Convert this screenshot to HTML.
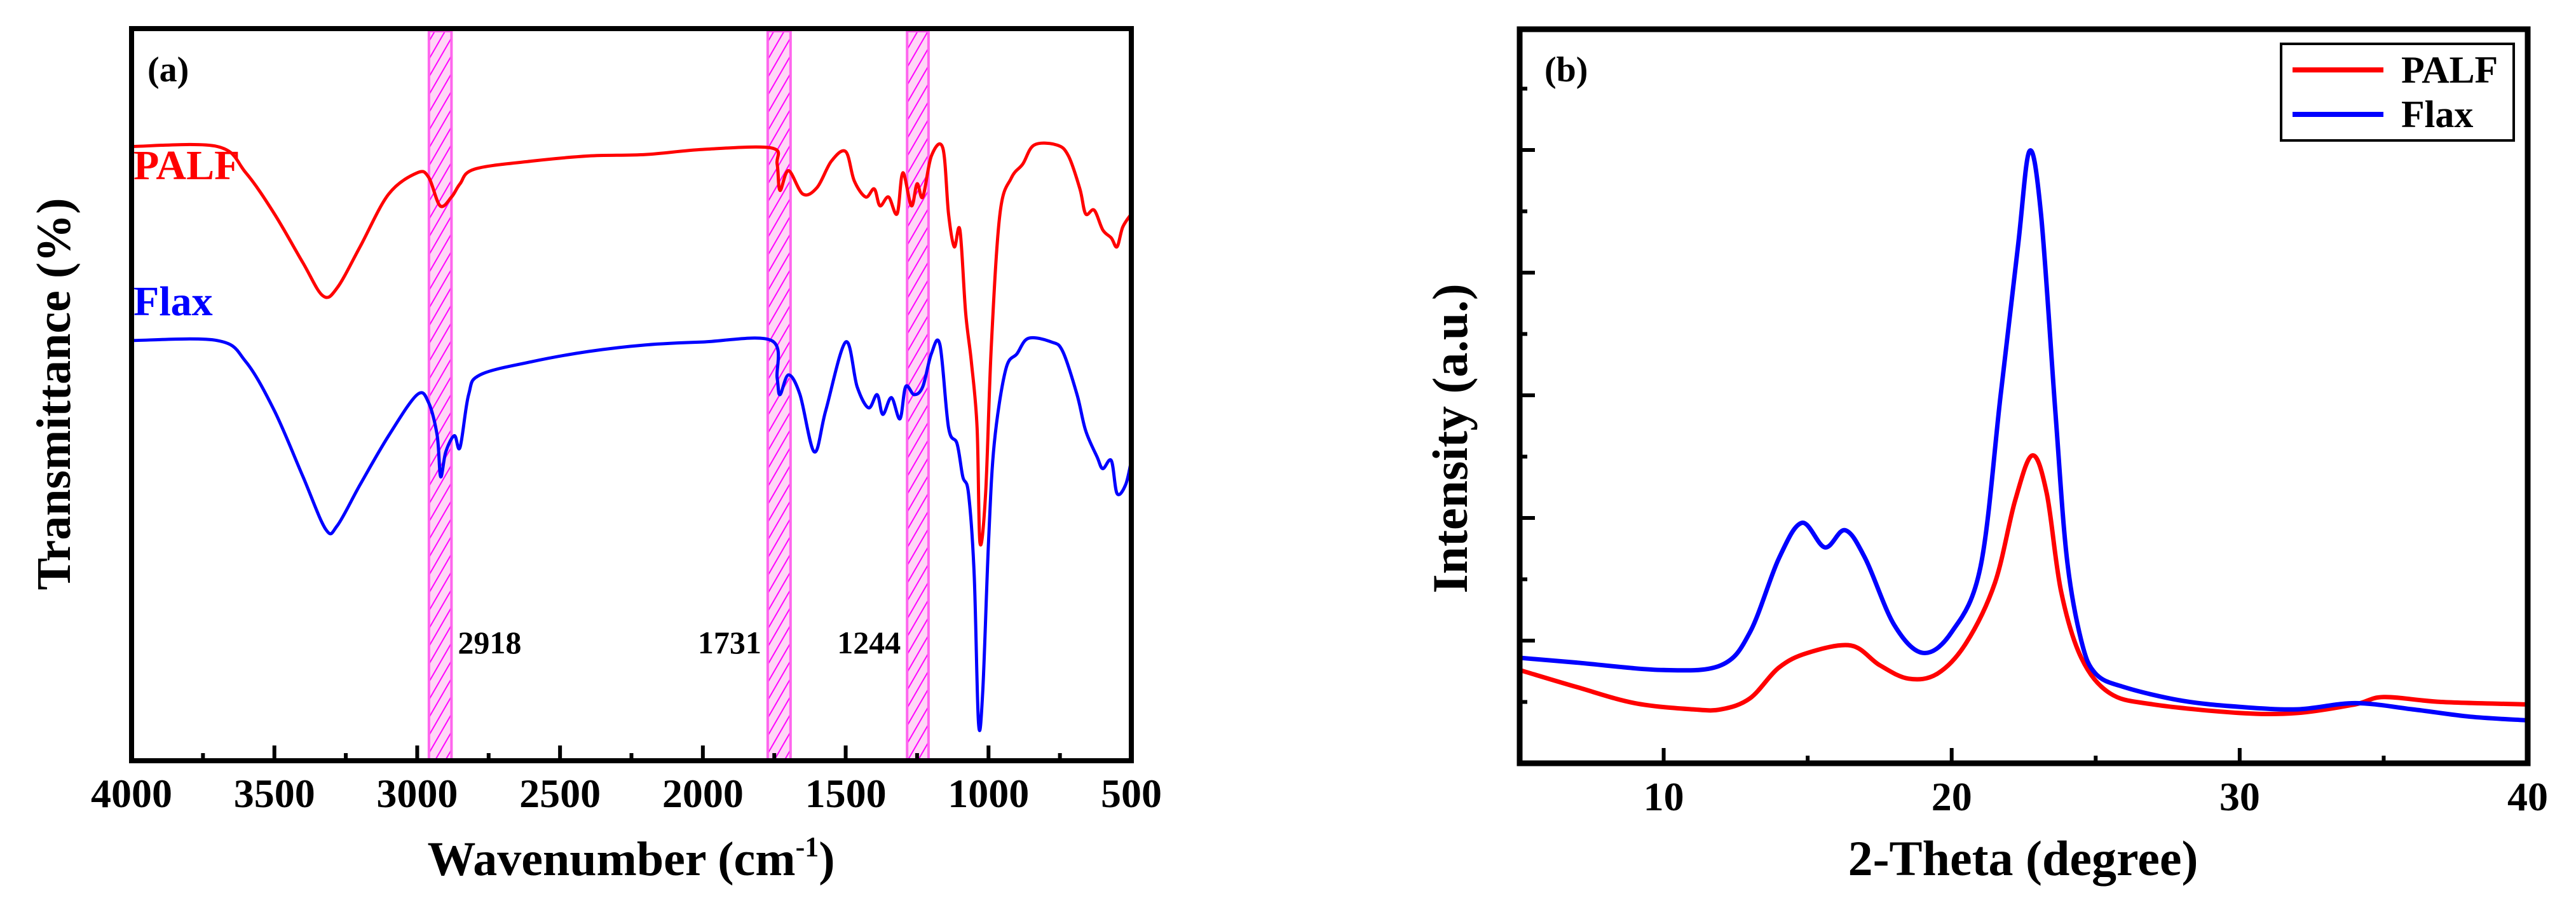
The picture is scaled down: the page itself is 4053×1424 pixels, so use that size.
<!DOCTYPE html>
<html><head><meta charset="utf-8"><style>
html,body{margin:0;padding:0;background:#fff;}
svg{display:block;}
text{font-family:"Liberation Serif",serif;font-weight:bold;}
</style></head><body>
<svg id="fig" width="4053" height="1424" viewBox="0 0 4053 1424" xmlns="http://www.w3.org/2000/svg">
<defs>
<pattern id="hatch" patternUnits="userSpaceOnUse" width="14" height="14" patternTransform="rotate(30)">
<rect width="14" height="14" fill="#ffd6f6"/>
<line x1="0" y1="0" x2="0" y2="14" stroke="#ff00ff" stroke-width="4"/>
</pattern>
</defs>
<g id="pa"></g>
<g id="pb"></g>
</svg>
<script>
// ---------- Panel (a) FTIR data ----------
const ftirPalfWn = [4000,3700,3600,3500,3400,3330,3280,3200,3100,3000,2960,2920,2880,2850,2800,2600,2400,2200,2000,1760,1740,1730,1700,1650,1600,1550,1500,1470,1430,1400,1380,1350,1320,1300,1270,1250,1230,1200,1160,1140,1120,1100,1080,1060,1040,1030,1010,990,960,920,880,840,760,720,680,660,630,600,570,550,530,500];
const ftirPalfT  = [83.9,83.9,80.3,74.7,68.0,63.5,64.6,70.2,77.4,80.3,79.7,75.8,77.0,78.8,80.8,81.9,82.6,82.8,83.5,83.7,81.5,77.9,80.6,77.4,78.3,81.9,83.2,79.2,77.0,78.1,75.8,77.0,74.7,80.3,75.8,78.8,77.0,82.6,83.7,74.7,70.2,72.5,61.2,54.5,45.5,29.8,36.6,56.8,74.7,79.6,81.5,84.1,84.1,82.6,78.1,74.7,75.2,72.5,71.4,70.2,72.9,74.7];
const ftirFlaxWn = [4000,3700,3600,3500,3400,3320,3280,3200,3100,3000,2960,2930,2918,2900,2870,2850,2820,2780,2600,2400,2200,2000,1760,1740,1730,1700,1660,1610,1570,1500,1460,1420,1390,1370,1340,1310,1290,1260,1230,1200,1170,1140,1110,1090,1070,1050,1035,1020,1000,980,940,900,860,780,740,690,660,620,600,570,550,520,500];
const ftirFlaxT  = [57.4,57.4,54.5,47.8,38.8,31.6,32.1,37.7,44.4,50.0,48.9,44.4,38.8,42.2,44.4,42.8,50.0,52.7,54.5,55.9,56.8,57.2,57.4,52.3,50.0,52.7,50.0,42.2,47.8,57.2,51.1,48.2,50.0,47.3,49.6,46.7,51.1,50.0,51.1,55.6,56.8,45.5,43.3,38.8,36.5,25.3,5.1,9.6,29.8,43.3,53.4,55.6,57.7,57.2,55.9,50.0,45.1,41.5,39.9,41.0,36.5,37.7,41.0];
const ftirBandLo = [2880,1693,1210];
const ftirBandHi = [2959,1773,1285];
const ftirBandLabels = ["2918","1731","1244"];
const ftirXTicks = [4000,3500,3000,2500,2000,1500,1000,500];

// ---------- Panel (b) XRD data ----------
const xrdFlax2t = [5,7,10,12,13,14,14.8,15.6,16.3,17,18,19,20,21,21.7,22.3,22.7,23.1,23.6,24,24.5,25,26,28,30,32,34,36,38,40];
const xrdFlaxI  = [0.86,0.82,0.76,0.80,1.07,1.67,1.96,1.76,1.90,1.67,1.13,0.90,1.07,1.60,3.00,4.21,4.99,4.48,2.87,1.67,1.00,0.73,0.62,0.51,0.46,0.44,0.49,0.44,0.38,0.35];
const xrdPalf2t = [5,7,9,11,12,13,14,15,16.5,17.5,18.5,19.5,20.5,21.5,22.2,22.8,23.3,23.8,24.5,25.5,27,30,32,34,35,37,40];
const xrdPalfI  = [0.76,0.62,0.49,0.44,0.44,0.53,0.78,0.90,0.96,0.80,0.69,0.73,0.98,1.47,2.14,2.51,2.20,1.40,0.86,0.57,0.48,0.41,0.41,0.48,0.54,0.50,0.48];
const xrdXTicks = [10,20,30,40];

const NS="http://www.w3.org/2000/svg";
function mk(parent,tag,attrs,txt){const e=document.createElementNS(NS,tag);for(const k in attrs)e.setAttribute(k,attrs[k]);if(txt!==undefined)e.textContent=txt;parent.appendChild(e);return e;}
function smoothPath(pts){
  let d="M"+pts[0][0].toFixed(1)+","+pts[0][1].toFixed(1);
  for(let i=0;i<pts.length-1;i++){
    const p0=pts[i-1]||pts[i],p1=pts[i],p2=pts[i+1],p3=pts[i+2]||p2;
    const c1=[p1[0]+(p2[0]-p0[0])/6,p1[1]+(p2[1]-p0[1])/6];
    const c2=[p2[0]-(p3[0]-p1[0])/6,p2[1]-(p3[1]-p1[1])/6];
    d+=" C"+c1[0].toFixed(1)+","+c1[1].toFixed(1)+" "+c2[0].toFixed(1)+","+c2[1].toFixed(1)+" "+p2[0].toFixed(1)+","+p2[1].toFixed(1);
  }
  return d;
}

// ===== Panel a =====
const A={l:207,r:1780,t:45,b:1197};
const ax=w=>A.l+(4000-w)/3500*(A.r-A.l);
const ay=v=>A.b-v/100*(A.b-A.t);
const pa=document.getElementById('pa');
for(let i=0;i<ftirBandLo.length;i++){
  const x1=ax(ftirBandHi[i]),x2=ax(ftirBandLo[i]);
  const r=mk(pa,'rect',{x:x1,y:A.t+4,width:x2-x1,height:A.b-A.t-4,fill:'url(#hatch)',stroke:'#ff66ee','stroke-width':4});
  
  
}
const lp=mk(pa,'path',{d:smoothPath(ftirPalfWn.map((w,i)=>[ax(w),ay(ftirPalfT[i])])),fill:'none',stroke:'#ff0000','stroke-width':5,'stroke-linejoin':'round'});


const lf=mk(pa,'path',{d:smoothPath(ftirFlaxWn.map((w,i)=>[ax(w),ay(ftirFlaxT[i])])),fill:'none',stroke:'#0000ff','stroke-width':5,'stroke-linejoin':'round'});


const fa=mk(pa,'rect',{x:A.l,y:A.t,width:A.r-A.l,height:A.b-A.t,fill:'none',stroke:'#000','stroke-width':8});


for(let w=4000;w>=500;w-=250){
  const major=(w%500===0);
  const t=mk(pa,'line',{x1:ax(w),x2:ax(w),y1:A.b,y2:A.b-(major?24:12),stroke:'#000','stroke-width':6});
  
  
}
ftirXTicks.forEach(w=>{
  const t=mk(pa,'text',{x:ax(w),y:1270,'font-size':64,'text-anchor':'middle'},String(w));
  
  
});
ftirBandLabels.forEach((s,i)=>{
  const xx = i===0 ? ax(ftirBandLo[i])+10 : ax(ftirBandHi[i])-10;
  const t=mk(pa,'text',{x:xx,y:1028,'font-size':50,'text-anchor':i===0?'start':'end'},s);
  
  
});
</script>
<script>
(function(){
const pa=document.getElementById('pa');
let t=mk(pa,'text',{x:232,y:128,'font-size':56},"(a)");


t=mk(pa,'text',{x:210,y:282,'font-size':66,fill:'#ff0000'},"PALF");


t=mk(pa,'text',{x:210,y:496,'font-size':66,fill:'#0000ff'},"Flax");


t=mk(pa,'text',{x:993,y:1377,'font-size':76,'text-anchor':'middle'},"Wavenumber (cm");


const ts=mk(t,'tspan',{dy:-30,'font-size':44},"-1");
const tp=mk(t,'tspan',{dy:30},")");
t=mk(pa,'text',{x:0,y:0,'font-size':76,'text-anchor':'middle',transform:'translate(110,620) rotate(-90)'},"Transmittance (%)");



// ===== Panel b =====
const B={l:2391,r:3977,t:46,b:1201};
const bx=v=>B.l+(v-5)/35*(B.r-B.l);
const by=v=>B.b-v*193;
const pb=document.getElementById('pb');
const l1=mk(pb,'path',{d:smoothPath(xrdPalf2t.map((v,i)=>[bx(v),by(xrdPalfI[i])])),fill:'none',stroke:'#ff0000','stroke-width':7,'stroke-linejoin':'round'});


const l2=mk(pb,'path',{d:smoothPath(xrdFlax2t.map((v,i)=>[bx(v),by(xrdFlaxI[i])])),fill:'none',stroke:'#0000ff','stroke-width':7,'stroke-linejoin':'round'});


const fb=mk(pb,'rect',{x:B.l,y:B.t,width:B.r-B.l,height:B.b-B.t,fill:'none',stroke:'#000','stroke-width':9});


for(let v=5;v<=40;v+=5){
  const major=(v%10===0);
  const k=mk(pb,'line',{x1:bx(v),x2:bx(v),y1:B.b,y2:B.b-(major?24:12),stroke:'#000','stroke-width':6});
  
  
}
for(let v=0.5;v<=5.5;v+=0.5){
  const major=(Math.abs(v-Math.round(v))<0.01);
  const k=mk(pb,'line',{x1:B.l,x2:B.l+(major?24:12),y1:by(v),y2:by(v),stroke:'#000','stroke-width':6});
  
  
}
xrdXTicks.forEach(v=>{
  const k=mk(pb,'text',{x:bx(v),y:1275,'font-size':64,'text-anchor':'middle'},String(v));
  
  
});
t=mk(pb,'text',{x:2430,y:128,'font-size':56},"(b)");


t=mk(pb,'text',{x:3183,y:1377,'font-size':78,'text-anchor':'middle'},"2-Theta (degree)");


t=mk(pb,'text',{x:0,y:0,'font-size':78,'text-anchor':'middle',transform:'translate(2308,690) rotate(-90)'},"Intensity (a.u.)");


const lg=mk(pb,'g',{});


mk(lg,'rect',{x:3589,y:69,width:366,height:152,fill:'#fff',stroke:'#000','stroke-width':4});
let e=mk(lg,'line',{x1:3607,x2:3750,y1:110,y2:110,stroke:'#ff0000','stroke-width':8});


e=mk(lg,'text',{x:3778,y:130,'font-size':60},"PALF");


e=mk(lg,'line',{x1:3607,x2:3750,y1:180,y2:180,stroke:'#0000ff','stroke-width':8});


e=mk(lg,'text',{x:3778,y:200,'font-size':60},"Flax");


})();
</script>
</body></html>
